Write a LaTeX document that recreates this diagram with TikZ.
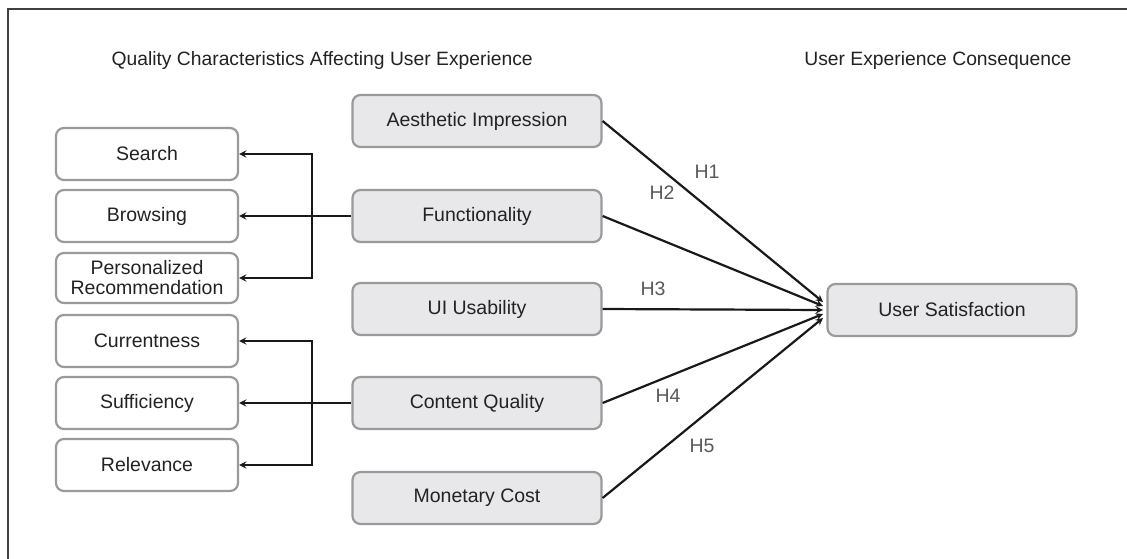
\documentclass[tikz,border=0pt]{standalone}
\usepackage{fontspec}
\setmainfont{Liberation Sans}
\usepackage{tikz}
\usetikzlibrary{arrows,positioning}
\definecolor{boxline}{HTML}{9A9A9C}
\definecolor{boxfill}{HTML}{E8E8EA}
\definecolor{txt}{HTML}{222222}

\begin{document}
\begin{tikzpicture}[x=1pt,y=-1pt,>=stealth,
  every node/.style={font=\fontsize{19.5}{21}\selectfont,text=txt},
  subbox/.style={draw=boxline,line width=2.2pt,rounded corners=8pt,minimum width=182pt,minimum height=52pt,align=center,inner sep=2pt},
  mainbox/.style={subbox,fill=boxfill,minimum width=249pt},
  arr/.style={->,line width=2.2pt,draw=black!90},
  hyp/.style={text=black!65}]
\useasboundingbox (0,0) rectangle (1127,559);
\draw[line width=1.2pt,black!75] (8,559) -- (8,9) -- (1127,9);

\node[anchor=base west,font=\fontsize{19.3}{22}\selectfont] (qtitle) at (108,66) {Quality Characteristics Affecting User Experience};
\node[anchor=base east,font=\fontsize{19.3}{22}\selectfont] (ctitle) at (1075,66) {User Experience Consequence};

% sub characteristics
\node[subbox] (search) at (147,154) {Search};
\node[subbox] (browsing) at (147,216) {Browsing};
\node[subbox,minimum height=50pt] (personal) at (147,278) {Personalized\\[-1pt]Recommendation};
\node[subbox] (current) at (147,341) {Currentness};
\node[subbox] (suffic) at (147,403) {Sufficiency};
\node[subbox] (relev) at (147,465) {Relevance};

% quality characteristics
\node[mainbox] (aesthetic) at (477,121) {Aesthetic Impression};
\node[mainbox] (function) at (477,216) {Functionality};
\node[mainbox] (usability) at (477,309) {UI Usability};
\node[mainbox] (content) at (477,403) {Content Quality};
\node[mainbox] (cost) at (477,498) {Monetary Cost};

\node[mainbox] (satisf) at (952,310) {User Satisfaction};

\coordinate (fjoin) at (312,216);
\coordinate (cjoin) at (312,403);
\draw[arr] (function.west) -- (browsing.east);
\draw[arr] (fjoin) |- (search.east);
\draw[arr] (fjoin) |- (personal.east);
\draw[arr] (content.west) -- (suffic.east);
\draw[arr] (cjoin) |- (current.east);
\draw[arr] (cjoin) |- (relev.east);

\coordinate (t1) at (823,302);
\coordinate (t2) at (823,306);
\coordinate (t3) at (823,310);
\coordinate (t4) at (823,314);
\coordinate (t5) at (823,318);
\draw[arr] (aesthetic.east) -- (t1);
\draw[arr] (function.east) -- (t2);
\draw[arr] (usability.east) -- (t3);
\draw[arr] (content.east) -- (t4);
\draw[arr] (cost.east) -- (t5);

\node[hyp] (h1) at (707,172) {H1};
\node[hyp] (h2) at (662,193) {H2};
\node[hyp] (h3) at (653,289) {H3};
\node[hyp] (h4) at (668,396) {H4};
\node[hyp] (h5) at (702,446) {H5};
\end{tikzpicture}
\end{document}
